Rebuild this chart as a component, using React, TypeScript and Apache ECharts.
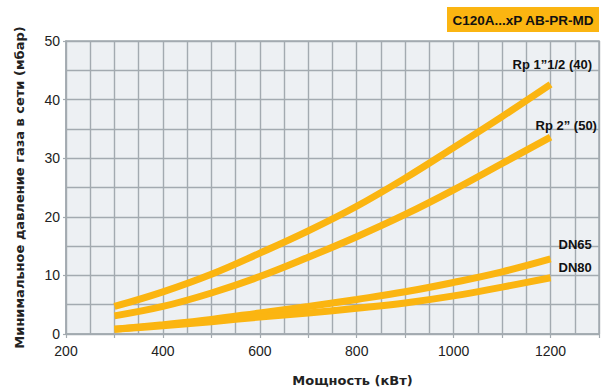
import React, { useEffect, useRef } from "react";
import * as echarts from "echarts";

const powerKW = [300, 400, 500, 600, 700, 800, 900, 1000, 1100, 1200];
const rp40 = [4.7, 7.2, 10.2, 13.8, 17.6, 21.8, 26.6, 31.8, 37.1, 42.6];
const rp50 = [3.1, 4.7, 7.0, 9.8, 13.1, 16.6, 20.4, 24.6, 29.1, 33.6];
const dn65 = [0.8, 1.6, 2.5, 3.6, 4.7, 5.9, 7.2, 8.8, 10.6, 12.8];
const dn80 = [0.8, 1.4, 2.1, 2.9, 3.6, 4.4, 5.3, 6.5, 8.0, 9.6];

const seriesNames = ["Rp 1\u201d1/2 (40)", "Rp 2\u201d (50)", "DN65", "DN80"];
const seriesValues = [rp40, rp50, dn65, dn80];
const labelOffsets: [number, number][] = [[-43, -20], [-20, -12], [3, -14], [3, -10]];

const xTitle = "Мощность (кВт)";
const yTitle = "Минимальное давление газа в сети (мбар)";
const chartTitle = "C120A...xP AB-PR-MD";

const YELLOW = "#FBB511";
const GRID = "#A3AAB0";

export default function App() {
  const ref = useRef<HTMLDivElement>(null);
  useEffect(() => {
    document.body.style.margin = "0";
    const chart = echarts.init(ref.current!, null, { renderer: "svg" });
    chart.setOption({
      animation: false,
      backgroundColor: "#ffffff",
      grid: {
        left: 66,
        top: 41,
        right: 7,
        bottom: 58,
        show: true,
        backgroundColor: "#EDF0F3",
        borderColor: GRID,
        borderWidth: 1.5,
      },
      graphic: [
        {
          type: "rect",
          shape: { x: 447, y: 7, width: 152, height: 25 },
          style: { fill: YELLOW },
        },
        {
          type: "text",
          x: 523,
          y: 20,
          style: {
            text: chartTitle,
            fill: "#111",
            font: "bold 13.5px 'Liberation Sans', Arial, sans-serif",
            align: "center",
            verticalAlign: "middle",
          },
        },
      ],
      xAxis: {
        type: "value",
        min: 200,
        max: 1300,
        interval: 100,
        name: xTitle,
        nameLocation: "middle",
        nameGap: 40,
        nameTextStyle: {
          fontFamily: "DejaVu Sans",
          fontWeight: "bold",
          fontSize: 13,
          color: "#222",
          padding: [0, 0, 0, 40],
        },
        axisLine: { show: true, lineStyle: { color: GRID, width: 1.5 } },
        axisTick: { show: true, length: 4, lineStyle: { color: GRID, width: 1.2 } },
        axisLabel: {
          margin: 10,
          fontFamily: "'Liberation Sans', Arial, sans-serif",
          fontSize: 14,
          color: "#222",
          formatter: (v: number) => (v % 200 === 0 && v <= 1200 ? String(v) : ""),
        },
        splitLine: { show: true, lineStyle: { color: GRID, width: 1.4 } },
        minorTick: { show: false, splitNumber: 2 },
        minorSplitLine: { show: true, lineStyle: { color: GRID, width: 1.4 } },
      },
      yAxis: {
        type: "value",
        min: 0,
        max: 50,
        interval: 10,
        name: yTitle,
        nameLocation: "middle",
        nameGap: 40,
        nameTextStyle: {
          fontFamily: "DejaVu Sans",
          fontWeight: "bold",
          fontSize: 13,
          color: "#222",
          padding: [0, 0, 0, 0],
        },
        axisLine: { show: true, lineStyle: { color: GRID, width: 1.5 } },
        axisTick: { show: true, length: 3, lineStyle: { color: GRID, width: 1.2 } },
        axisLabel: {
          margin: 6,
          fontFamily: "'Liberation Sans', Arial, sans-serif",
          fontSize: 14,
          color: "#222",
        },
        splitLine: { show: true, lineStyle: { color: GRID, width: 1.4 } },
        minorTick: { show: false, splitNumber: 2 },
        minorSplitLine: { show: true, lineStyle: { color: GRID, width: 1.4 } },
      },
      series: seriesNames.map((name, i) => ({
        name,
        type: "line",
        smooth: 0.4,
        showSymbol: false,
        symbol: "none",
        data: powerKW.map((x, j) => [x, seriesValues[i][j]]),
        lineStyle: { color: YELLOW, width: 7, cap: "butt" },
        itemStyle: { color: YELLOW },
        z: 3,
        endLabel: {
          show: true,
          formatter: name,
          offset: labelOffsets[i],
          distance: 5,
          fontFamily: "'Liberation Sans', Arial, sans-serif",
          fontWeight: "bold",
          fontSize: 13,
          color: "#111",
        },
      })),
    });
    return () => chart.dispose();
  }, []);
  return <div ref={ref} style={{ width: 606, height: 392 }} />;
}
